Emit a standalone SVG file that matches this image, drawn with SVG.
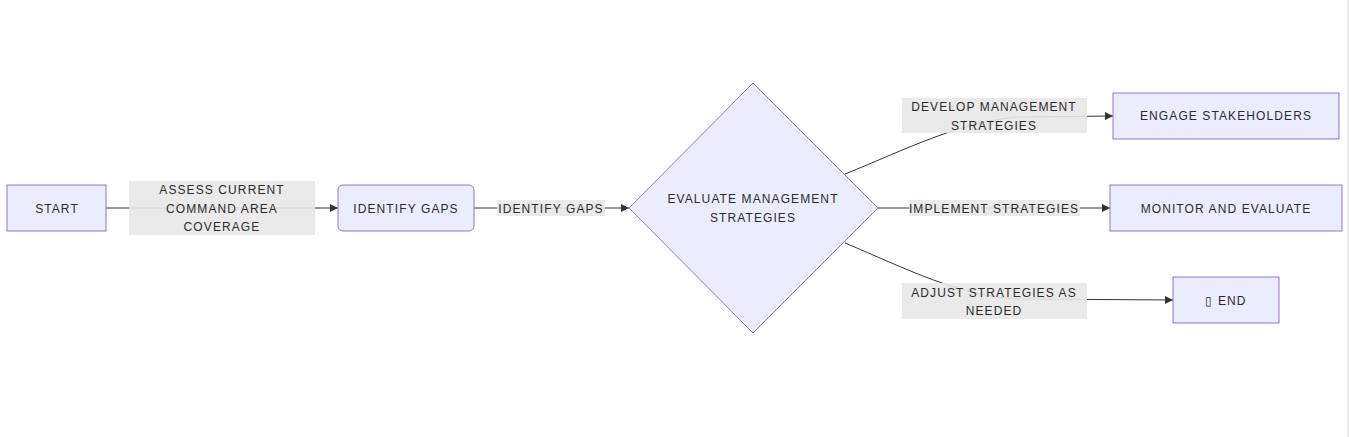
<svg xmlns="http://www.w3.org/2000/svg" width="1349" height="437" viewBox="0 0 1349 437">
<style>
.node{fill:#ECECFF;stroke:#9370DB;stroke-width:1;}
.edge{fill:none;stroke:#333;stroke-width:1;}
.lbg{fill:#e8e8e8;opacity:0.9;}
text{font-family:"Liberation Sans",Arial,sans-serif;font-size:12px;fill:#2b2b2b;letter-spacing:1.1px;text-anchor:middle;dominant-baseline:central;}
</style>
<defs>
<marker id="arrow" viewBox="0 0 10 10" refX="10" refY="5" markerWidth="8" markerHeight="8" markerUnits="userSpaceOnUse" orient="auto">
<path d="M0,0 L10,5 L0,10 z" fill="#333"/>
</marker>
</defs>
<rect x="0" y="0" width="1349" height="437" fill="#fff"/>
<line x1="1348" y1="0" x2="1348" y2="437" stroke="#d6d6d6" stroke-width="1"/>
<g id="connectors">
<path class="edge" d="M106,208 L338,208" marker-end="url(#arrow)"/>
<path class="edge" d="M474,208 L629,208" marker-end="url(#arrow)"/>
<path class="edge" d="M845,174 C905,150 960,121 1020,117 L1113,116" marker-end="url(#arrow)"/>
<path class="edge" d="M878,208 L1110,208" marker-end="url(#arrow)"/>
<path class="edge" d="M845,243 C905,268 960,297 1020,299 L1173,300" marker-end="url(#arrow)"/>
</g>
<g id="edge-labels">
<g id="label-assess">
<rect class="lbg" x="129" y="181" width="186" height="54"/>
<text x="222" y="190">ASSESS CURRENT</text>
<text x="222" y="209">COMMAND AREA</text>
<text x="222" y="227">COVERAGE</text>
</g>
<g id="label-identify">
<rect class="lbg" x="497" y="200" width="108" height="16"/>
<text x="551" y="209">IDENTIFY GAPS</text>
</g>
<g id="label-develop">
<rect class="lbg" x="902" y="98" width="185" height="35"/>
<text x="994" y="107">DEVELOP MANAGEMENT</text>
<text x="994" y="126">STRATEGIES</text>
</g>
<g id="label-implement">
<rect class="lbg" x="909" y="200" width="171" height="16"/>
<text x="994" y="209">IMPLEMENT STRATEGIES</text>
</g>
<g id="label-adjust">
<rect class="lbg" x="902" y="283" width="185" height="36"/>
<text x="994" y="293">ADJUST STRATEGIES AS</text>
<text x="994" y="311">NEEDED</text>
</g>
</g>
<g id="start">
<rect class="node" x="7" y="185" width="99" height="46"/>
<text x="57" y="209">START</text>
</g>
<g id="identify-gaps">
<rect class="node" x="338" y="185" width="136" height="46" rx="5" ry="5"/>
<text x="406" y="209">IDENTIFY GAPS</text>
</g>
<g id="evaluate">
<polygon class="node" points="753,83 878,208 753,333 629,208"/>
<text x="753" y="199">EVALUATE MANAGEMENT</text>
<text x="753" y="218">STRATEGIES</text>
</g>
<g id="engage">
<rect class="node" x="1113" y="93" width="226" height="46"/>
<text x="1226" y="116">ENGAGE STAKEHOLDERS</text>
</g>
<g id="monitor">
<rect class="node" x="1110" y="185" width="232" height="46"/>
<text x="1226" y="209">MONITOR AND EVALUATE</text>
</g>
<g id="end">
<rect class="node" x="1173" y="277" width="106" height="46"/>
<text x="1226" y="301">&#x25AF; END</text>
</g>
</svg>
